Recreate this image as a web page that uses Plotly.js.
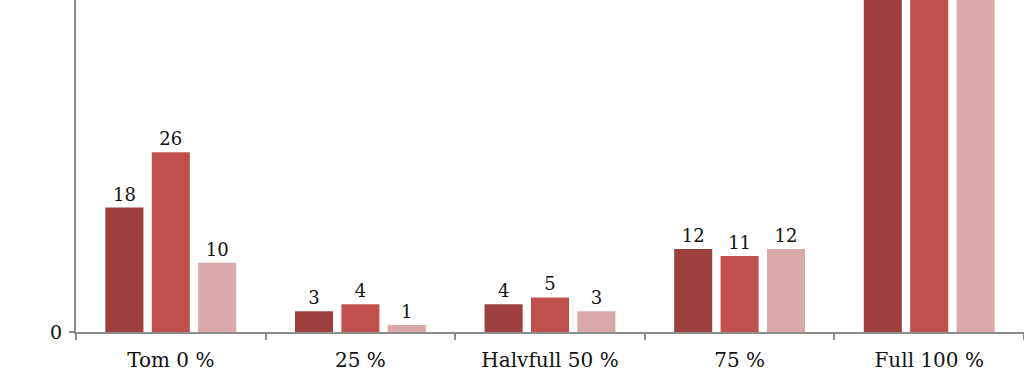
<!DOCTYPE html>
<html>
<head>
<meta charset="utf-8">
<script src="https://cdn.plot.ly/plotly-3.0.1.min.js"></script>
<style>html,body{margin:0;padding:0;background:#fff;}#chart{width:1024px;height:388px;}</style>
</head>
<body>
<div id="chart"></div>
<script>
const categories = ["Tom 0 %", "25 %", "Halvfull 50 %", "75 %", "Full 100 %"];
const series1 = [18, 3, 4, 12, 60];
const series2 = [26, 4, 5, 11, 58];
const series3 = [10, 1, 3, 12, 62];
const seriesNames = ["Serie 1", "Serie 2", "Serie 3"];
const colors = ["#9C3F3E", "#C0504E", "#D9A8A8"];
const yMax = 48;

const font = "Georgia, 'DejaVu Serif', serif";
const traces = [series1, series2, series3].map((vals, i) => ({
  type: "bar",
  name: seriesNames[i],
  x: categories,
  y: vals,
  // labels of bars running past the top of the visible area are cut off in the reference
  text: vals.map(v => v > yMax ? "" : String(v)),
  textposition: "outside",
  cliponaxis: true,
  textfont: {family: font, size: 18, color: "#111"},
  marker: {color: colors[i]},
  showlegend: false,
  hoverinfo: "x+y+name"
}));

const layout = {
  width: 1024, height: 388,
  margin: {l: 76, r: 0, t: 0, b: 56},
  paper_bgcolor: "#fff", plot_bgcolor: "#fff",
  barmode: "group",
  bargap: 0.266,
  bargroupgap: 0.18,
  font: {family: font, size: 19, color: "#111"},
  xaxis: {
    type: "category",
    showline: true, linecolor: "#8c8c8c", linewidth: 2,
    ticks: "outside", tickson: "boundaries", ticklen: 6, tickcolor: "#8c8c8c", tickwidth: 2,
    ticklabelstandoff: 9,
    showgrid: false, zeroline: false,
    tickfont: {family: font, size: 20, color: "#111"}
  },
  yaxis: {
    range: [0, yMax],
    showline: true, linecolor: "#8c8c8c", linewidth: 2,
    ticks: "outside", ticklen: 5, tickcolor: "#8c8c8c", tickwidth: 2,
    ticklabelstandoff: 3,
    tickvals: [0], ticktext: ["0"],
    showgrid: false, zeroline: false,
    tickfont: {family: font, size: 19, color: "#111"}
  }
};
Plotly.newPlot("chart", traces, layout, {displayModeBar: false, staticPlot: true});
</script>
</body>
</html>
